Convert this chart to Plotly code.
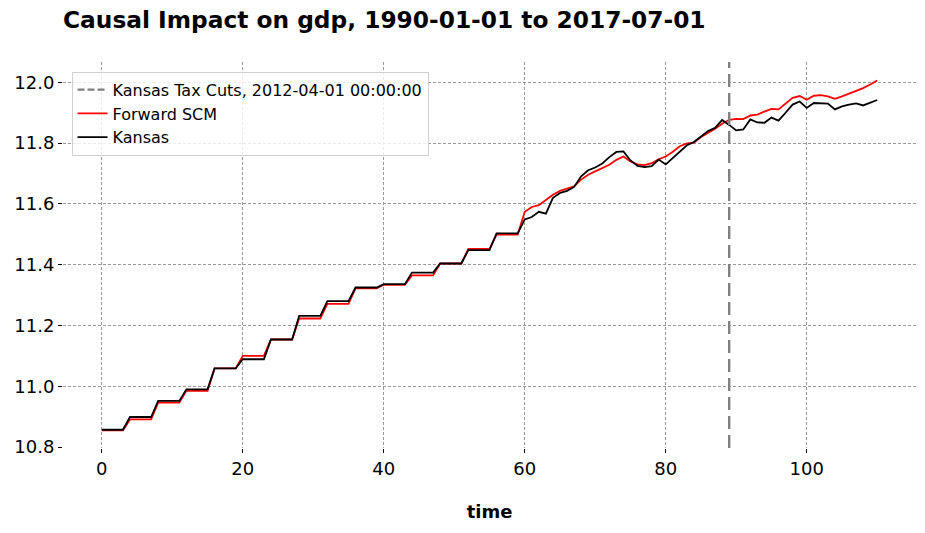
import plotly.graph_objects as go

time = list(range(111))

kansas = [
    10.857, 10.857, 10.857, 10.857, 10.899, 10.899, 10.899, 10.899,
    10.952, 10.952, 10.952, 10.952, 10.990, 10.990, 10.990, 10.990,
    11.059, 11.059, 11.059, 11.059, 11.089, 11.089, 11.089, 11.089,
    11.154, 11.154, 11.154, 11.154, 11.232, 11.232, 11.232, 11.232,
    11.280, 11.280, 11.280, 11.280, 11.325, 11.325, 11.325, 11.325,
    11.336, 11.336, 11.336, 11.336, 11.374, 11.374, 11.374, 11.374,
    11.404, 11.404, 11.404, 11.404, 11.448, 11.448, 11.448, 11.448,
    11.503, 11.503, 11.503, 11.503,
    11.549, 11.557, 11.574, 11.568, 11.620, 11.636, 11.643, 11.656,
    11.691, 11.711, 11.720, 11.733, 11.754, 11.771, 11.773, 11.743,
    11.725, 11.721, 11.724, 11.746, 11.730, 11.752, 11.774, 11.793,
    11.804, 11.822, 11.840, 11.850, 11.876, 11.860, 11.842, 11.845,
    11.878, 11.868, 11.867, 11.884, 11.874, 11.900, 11.927, 11.937,
    11.916, 11.932, 11.932, 11.930, 11.911, 11.921, 11.927, 11.931,
    11.924, 11.932, 11.942,
]

forward_scm = [
    10.855, 10.855, 10.855, 10.855, 10.891, 10.891, 10.891, 10.891,
    10.946, 10.946, 10.946, 10.946, 10.985, 10.985, 10.985, 10.985,
    11.059, 11.059, 11.059, 11.059, 11.100, 11.100, 11.100, 11.100,
    11.154, 11.154, 11.154, 11.154, 11.223, 11.223, 11.223, 11.223,
    11.271, 11.271, 11.271, 11.271, 11.322, 11.322, 11.322, 11.322,
    11.334, 11.334, 11.334, 11.334, 11.365, 11.365, 11.365, 11.365,
    11.404, 11.404, 11.404, 11.404, 11.452, 11.452, 11.452, 11.452,
    11.499, 11.499, 11.499, 11.499,
    11.574, 11.590, 11.596, 11.614, 11.630, 11.643, 11.650, 11.658,
    11.680, 11.696, 11.707, 11.717, 11.729, 11.745, 11.756, 11.740,
    11.730, 11.728, 11.734, 11.747, 11.756, 11.772, 11.790, 11.799,
    11.802, 11.820, 11.834, 11.847, 11.864, 11.877, 11.880, 11.879,
    11.891, 11.894, 11.904, 11.913, 11.911, 11.930, 11.949, 11.955,
    11.943, 11.956, 11.958, 11.954, 11.946, 11.954, 11.963, 11.971,
    11.981, 11.993, 12.006,
]

treatment_time = 89
treatment_label = "Kansas Tax Cuts, 2012-04-01 00:00:00"
title_text = "Causal Impact on gdp, 1990-01-01 to 2017-07-01"
y_ticks = [10.8, 11.0, 11.2, 11.4, 11.6, 11.8, 12.0]
x_ticks = [0, 20, 40, 60, 80, 100]

fig = go.Figure()

# legend entry for the treatment line
fig.add_trace(go.Scatter(
    x=[None], y=[None], mode="lines", name=treatment_label,
    line=dict(color="grey", width=2.2, dash="7px,3px"),
))
fig.add_trace(go.Scatter(
    x=time, y=forward_scm, mode="lines", name="Forward SCM",
    line=dict(color="red", width=1.8),
))
fig.add_trace(go.Scatter(
    x=time, y=kansas, mode="lines", name="Kansas",
    line=dict(color="black", width=1.8),
))

fig.add_shape(
    type="line", xref="x", yref="paper",
    x0=treatment_time, x1=treatment_time, y0=0, y1=1,
    line=dict(color="grey", width=2.4, dash="13px,6px"),
)

axis_font = dict(family="DejaVu Sans", size=18, color="black")
grid_kw = dict(showgrid=True, gridcolor="#999999", griddash="3px,2px", gridwidth=0.8)

fig.update_layout(
    width=925, height=533,
    margin=dict(l=63, r=9, t=62, b=85),
    paper_bgcolor="white", plot_bgcolor="white",
    font=dict(family="DejaVu Sans", color="black"),
    title=dict(
        text="<b>" + title_text + "</b>",
        x=63 / 925, xanchor="left", y=1 - 20 / 533, yanchor="middle",
        font=dict(family="DejaVu Sans", size=23.3, color="black"),
    ),
    showlegend=True,
    legend=dict(
        x=0.01, y=0.975, xanchor="left", yanchor="top",
        bgcolor="rgba(255,255,255,0.8)", bordercolor="#d0d0d0", borderwidth=1,
        font=dict(family="DejaVu Sans", size=16, color="black"),
        itemwidth=30, tracegroupgap=0,
    ),
    xaxis=dict(
        range=[-5.5, 115.5], tickvals=x_ticks, ticks="outside", ticklen=4,
        tickcolor="black", tickfont=axis_font, showline=False, zeroline=False,
        automargin=False,
        title=dict(text="<b>time</b>", font=dict(family="DejaVu Sans", size=18, color="black"), standoff=27),
        **grid_kw,
    ),
    yaxis=dict(
        range=[10.797, 12.067], tickvals=y_ticks, tickformat=".1f",
        ticks="outside", ticklen=4, tickcolor="black", tickfont=axis_font,
        showline=False, zeroline=False, automargin=False,
        **grid_kw,
    ),
)

fig.write_html(
    "out.html",
    config={"displayModeBar": False},
    post_script="document.body.style.margin='0';",
)
